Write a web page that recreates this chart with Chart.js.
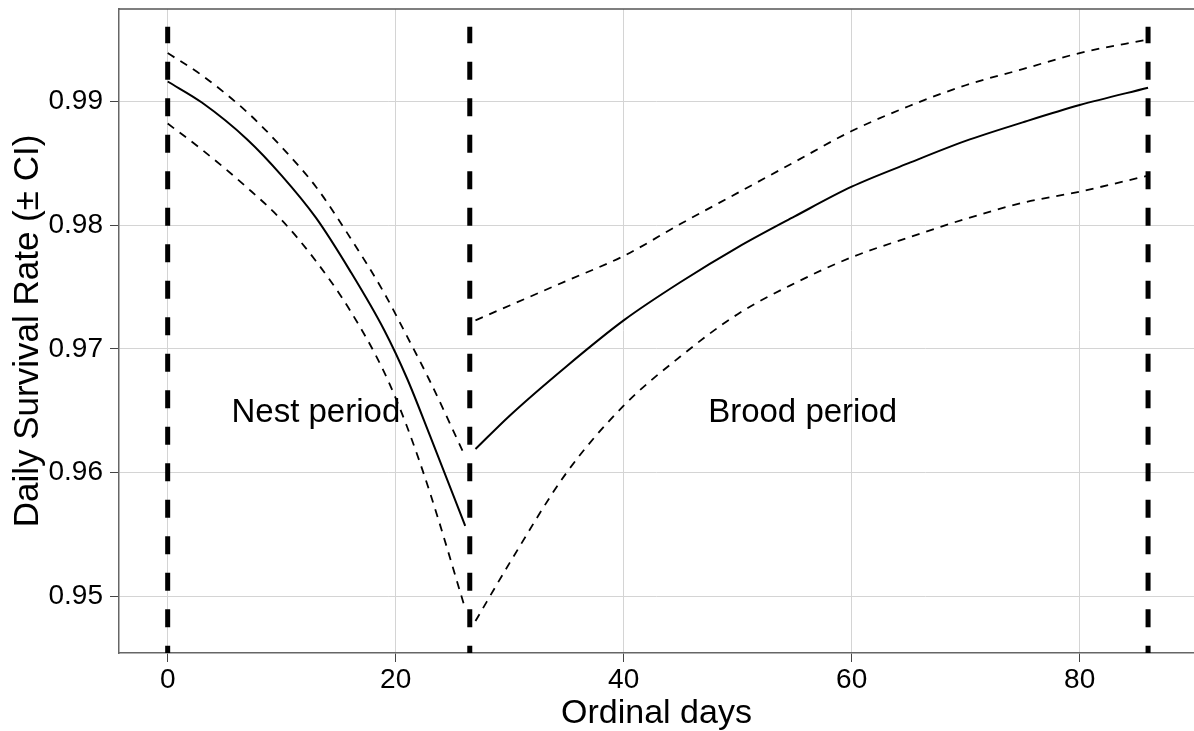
<!DOCTYPE html>
<html>
<head>
<meta charset="utf-8">
<script src="https://cdn.jsdelivr.net/npm/chart.js@4"></script>
<style>
  html, body { margin: 0; padding: 0; background: #fff; }
  #wrap { width: 1194px; height: 731px; position: relative; }
</style>
</head>
<body>
<div id="wrap"><canvas id="dsrChart"></canvas></div>
<script>
// values
const nestDays  = [0, 3, 7, 10, 13, 16, 19, 21, 23, 26.1];
const nestDsr   = [0.9916, 0.9899, 0.9869, 0.9840, 0.9806, 0.9763, 0.9715, 0.9676, 0.9630, 0.9557];
const nestUpper = [0.9939, 0.9921, 0.9891, 0.9863, 0.9831, 0.9790, 0.9745, 0.9710, 0.9674, 0.9613];
const nestLower = [0.9882, 0.9861, 0.9830, 0.9804, 0.9771, 0.9731, 0.9681, 0.9637, 0.9584, 0.9490];

const broodDays  = [27, 30, 35, 40, 45, 50, 55, 60, 65, 70, 75, 80, 86];
const broodDsr   = [0.9619, 0.9646, 0.9686, 0.9723, 0.9754, 0.9782, 0.9807, 0.9831, 0.9850, 0.9868, 0.9883, 0.9897, 0.9911];
const broodUpper = [0.9723, 0.9735, 0.9755, 0.9775, 0.9801, 0.9826, 0.9851, 0.9876, 0.9896, 0.9913, 0.9926, 0.9939, 0.9950];
const broodLower = [0.9480, 0.9527, 0.9600, 0.9654, 0.9694, 0.9728, 0.9753, 0.9774, 0.9790, 0.9805, 0.9818, 0.9827, 0.9840];

const periodBreaks = [0, 26.5, 86];
const breakTop = 0.99603;

const xTicks = [0, 20, 40, 60, 80];
const yTicks = [0.95, 0.96, 0.97, 0.98, 0.99];
const xMin = -4.27, xMax = 90.03;
const yMin = 0.94542, yMax = 0.99746;

const periodLabels = ['Nest period', 'Brood period'];
const periodLabelX = [13, 55.7];
const periodLabelY = [0.9648, 0.9648];

const FONT = '"Liberation Sans", Arial, sans-serif';

function pts(xs, ys) {
  return xs.map((x, i) => ({ x: x, y: ys[i] }));
}

function curve(data, dashed) {
  return {
    data: data,
    showLine: true,
    borderColor: '#000',
    borderWidth: dashed ? 1.8 : 2,
    borderDash: dashed ? [8, 7] : [],
    pointRadius: 0,
    cubicInterpolationMode: 'monotone',
    fill: false
  };
}

const datasets = [
  curve(pts(nestDays, nestDsr), false),
  curve(pts(nestDays, nestUpper), true),
  curve(pts(nestDays, nestLower), true),
  curve(pts(broodDays, broodDsr), false),
  curve(pts(broodDays, broodUpper), true),
  curve(pts(broodDays, broodLower), true)
];

periodBreaks.forEach(d => {
  datasets.push({
    data: [{ x: d, y: breakTop }, { x: d, y: yMin }],
    showLine: true,
    borderColor: '#000',
    borderWidth: 5,
    borderDash: [18, 18.5],
    borderDashOffset: 1.5,
    borderCapStyle: 'butt',
    pointRadius: 0,
    fill: false
  });
});

// top edge of the panel + period labels
const extras = {
  id: 'extras',
  afterDatasetsDraw(chart) {
    const { ctx, chartArea, scales } = chart;
    ctx.save();
    ctx.strokeStyle = '#555';
    ctx.lineWidth = 1.5;
    ctx.beginPath();
    ctx.moveTo(chartArea.left, chartArea.top);
    ctx.lineTo(chartArea.right, chartArea.top);
    ctx.stroke();

    ctx.fillStyle = '#000';
    ctx.font = '33px ' + FONT;
    ctx.textAlign = 'center';
    ctx.textBaseline = 'middle';
    periodLabels.forEach((t, i) => {
      ctx.fillText(t, scales.x.getPixelForValue(periodLabelX[i]), scales.y.getPixelForValue(periodLabelY[i]));
    });
    ctx.restore();
  }
};

const ctx = document.getElementById('dsrChart').getContext('2d');
new Chart(ctx, {
  type: 'scatter',
  data: { datasets: datasets },
  plugins: [extras],
  options: {
    responsive: true,
    maintainAspectRatio: false,
    animation: false,
    layout: { padding: { top: 9, right: 0, left: 0, bottom: 0 } },
    plugins: { legend: { display: false }, tooltip: { enabled: false } },
    scales: {
      x: {
        type: 'linear',
        min: xMin,
        max: xMax,
        afterBuildTicks: s => { s.ticks = xTicks.map(v => ({ value: v })); },
        afterFit: s => { s.height = 78; s.paddingLeft = 0; s.paddingRight = 0; },
        grid: { color: '#d4d4d4', lineWidth: 1, tickColor: '#444', tickLength: 9 },
        border: { color: '#666', width: 1.5 },
        ticks: { color: '#000', font: { family: FONT, size: 28 }, padding: 1, maxRotation: 0 },
        title: {
          display: true, text: 'Ordinal days', color: '#000',
          font: { family: FONT, size: 34, lineHeight: 1.0 }, padding: { top: 0, bottom: 0 }
        }
      },
      y: {
        type: 'linear',
        min: yMin,
        max: yMax,
        afterBuildTicks: s => { s.ticks = yTicks.map(v => ({ value: v })); },
        afterFit: s => { s.width = 119; s.paddingTop = 0; s.paddingBottom = 0; },
        grid: { color: '#d4d4d4', lineWidth: 1, tickColor: '#444', tickLength: 9 },
        border: { color: '#666', width: 1.5 },
        ticks: { color: '#000', font: { family: FONT, size: 28 }, padding: 7, callback: v => v.toFixed(2) },
        title: {
          display: true, text: 'Daily Survival Rate (± CI)', color: '#000',
          font: { family: FONT, size: 35, lineHeight: 1.2 }, padding: { top: 7, bottom: 0 }
        }
      }
    }
  }
});
</script>
</body>
</html>
